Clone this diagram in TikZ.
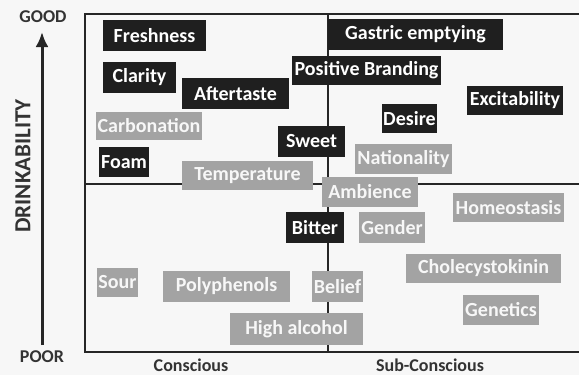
\documentclass[tikz,border=0pt]{standalone}
\usepackage{fontspec}
\setmainfont{Carlito}
\usetikzlibrary{arrows,arrows.meta,positioning}

\begin{document}
\begin{tikzpicture}[x=1pt,y=-1pt,
    dark/.style={fill=black!88, text=white, inner sep=0pt, font=\bfseries\fontsize{20}{20}\selectfont},
    grey/.style={fill=black!36, text=black!3, inner sep=0pt, font=\bfseries\fontsize{20}{20}\selectfont},
    box/.style 2 args={minimum width=#1pt, minimum height=#2pt},
    axislabel/.style={text=black!80, font=\bfseries\fontsize{18}{18}\selectfont}]
      \useasboundingbox[fill=black!3] (0,0) rectangle (579,375);
      % frame and quadrant lines
      \draw[line width=1.6pt, black!85] (579,14) -- (85,14) -- (85,352) -- (579,352);
      \draw[line width=1.6pt, black!85] (85,184) -- (579,184);
      \draw[line width=1.6pt, black!85] (328,14) -- (328,352);
      % drinkability axis
      \node[axislabel] at (43,17) (good) {GOOD};
      \node[axislabel] at (42,357) (poor) {POOR};
      \node[text=black!80, font=\bfseries\fontsize{23}{23}\selectfont, rotate=90] at (23,166) (drink) {DRINKABILITY};
      \coordinate (axbottom) at (42,345);
      \coordinate (axtop) at (42,32);
      \draw[-{Latex[length=15pt,width=13pt]}, line width=3pt, black!85] (axbottom) -- (axtop);
      \node[axislabel] at (191,365) (consc) {Conscious};
      \node[axislabel] at (430,365) (subconsc) {Sub-Conscious};
      % factors
      \node[dark, box={103}{31}] at (154.5,35.5) (fresh) {Freshness};
      \node[dark, box={73}{31}] at (139.5,77.5) (clarity) {Clarity};
      \node[dark, box={107}{31}] at (235.5,93.5) (after) {Aftertaste};
      \node[grey, box={106}{28}] at (149,126) (carb) {Carbonation};
      \node[dark, box={50}{30}] at (124,162) (foam) {Foam};
      \node[grey, box={131}{29}] at (247.5,175.5) (temp) {Temperature};
      \node[dark, box={149}{29}] at (366.5,70.5) (brand) {Positive Branding};
      \node[dark, box={67}{31}] at (311.5,141.5) (sweet) {Sweet};
      \node[dark, box={175}{31}] at (415.5,34.5) (gastric) {Gastric emptying};
      \node[dark, box={96}{29}] at (515,100.5) (excite) {Excitability};
      \node[dark, box={55}{29}] at (409.5,118.5) (desire) {Desire};
      \node[grey, box={97}{30}] at (403.5,159) (nation) {Nationality};
      \node[grey, box={96}{30}] at (370,192) (amb) {Ambience};
      \node[dark, box={58}{31}] at (315,227.5) (bitter) {Bitter};
      \node[grey, box={66}{31}] at (392,227.5) (gender) {Gender};
      \node[grey, box={111}{29}] at (508.5,207.5) (homeo) {Homeostasis};
      \node[grey, box={155}{29}] at (483.5,268.5) (chole) {Cholecystokinin};
      \node[grey, box={51}{31}] at (337.5,286.5) (belief) {Belief};
      \node[grey, box={76}{30}] at (501,310) (genet) {Genetics};
      \node[grey, box={133}{32}] at (296.5,329) (alcohol) {High alcohol};
      \node[grey, box={41}{29}] at (117.5,282.5) (sour) {Sour};
      \node[grey, box={127}{31}] at (226.5,286.5) (poly) {Polyphenols};
\end{tikzpicture}
\end{document}
